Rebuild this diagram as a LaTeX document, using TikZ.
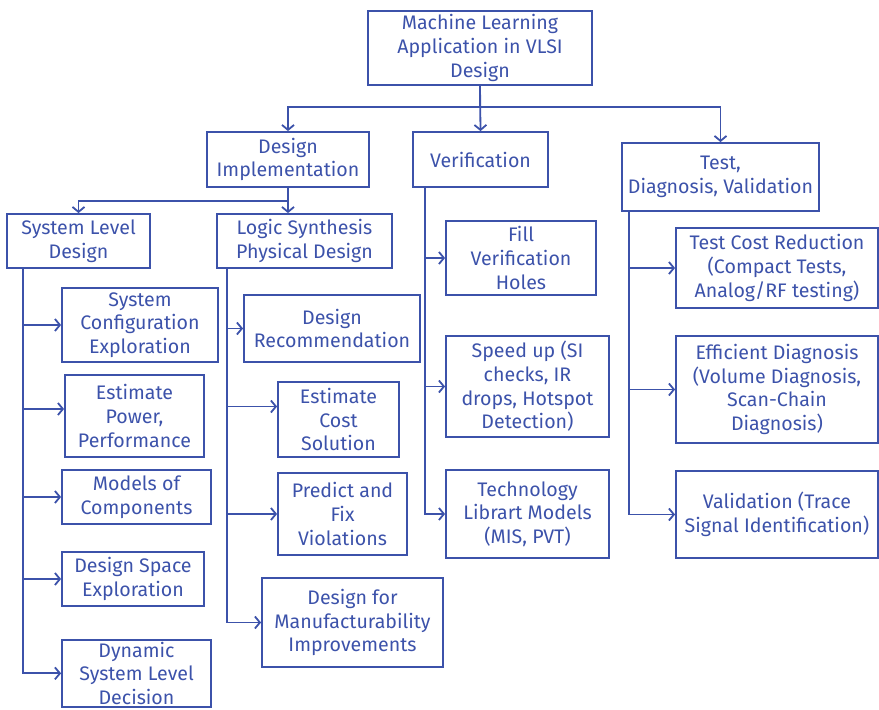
\documentclass[tikz,border=0pt]{standalone}
\usepackage{fontspec}
\setmainfont{Fira Sans}
\usetikzlibrary{arrows.meta}
\definecolor{vlsiblue}{RGB}{60,82,170}

\begin{document}
\begin{tikzpicture}[x=1pt,y=-1pt,line width=1.8pt,color=vlsiblue,
  box/.style n args={2}{draw,rectangle,align=center,inner sep=0pt,minimum width=#1pt,minimum height=#2pt,font=\fontsize{19.6}{23.7}\selectfont},
  arr/.style={-{Straight Barb[length=5pt,width=12pt]}}]
\useasboundingbox (0,0) rectangle (879,710);
\clip (0,0) rectangle (879,710);
% top levels
\node[box={224}{74}] (root) at (480,48) {Machine Learning\\Application in VLSI\\Design};
\node[box={162}{55}] (di) at (288,159.5) {Design\\Implementation};
\node[box={135}{55}] (ver) at (480.5,159.5) {Verification};
\node[box={197}{68}] (tdv) at (720.5,177) {Test,\\Diagnosis, Validation};
\node[box={143}{54}] (sld) at (78.5,241) {System Level\\Design};
\node[box={175}{54}] (lsp) at (304.5,241) {Logic Synthesis\\Physical Design};
% system level
\node[box={156}{74}] (sce) at (140,325) {System\\Configuration\\Exploration};
\node[box={139}{82}] (epp) at (134.5,416) {Estimate\\Power,\\Performance};
\node[box={149}{54}] (mod) at (136.5,497) {Models of\\Components};
\node[box={142}{54}] (dse) at (133,579) {Design Space\\Exploration};
\node[box={149}{0},inner ysep=2pt,anchor=north] (dsl) at (136.5,639) {Dynamic\\System Level\\Decision};
% logic synthesis
\node[box={176}{67}] (dr) at (332,328.5) {Design\\Recommendation};
\node[box={121}{75}] (ecs) at (338.5,419.5) {Estimate\\Cost\\Solution};
\node[box={129}{82}] (pfv) at (342.5,514) {Predict and\\Fix\\Violations};
\node[box={181}{89}] (dfm) at (352.5,622.5) {Design for\\Manufacturability\\Improvements};
% verification
\node[box={150}{74}] (fvh) at (521,258) {Fill\\Verification\\Holes};
\node[box={163}{101}] (spd) at (527.5,386.5) {Speed up (SI\\checks, IR\\drops, Hotspot\\Detection)};
\node[box={163}{88}] (tlm) at (527.5,514) {Technology\\Librart Models\\(MIS, PVT)};
% test
\node[box={202}{80}] (tcr) at (777,268) {Test Cost Reduction\\(Compact Tests,\\Analog/RF testing)};
\node[box={202}{107}] (efd) at (777,389.5) {Efficient Diagnosis\\(Volume Diagnosis,\\Scan-Chain\\Diagnosis)};
\node[box={202}{87}] (val) at (777,514.5) {Validation (Trace\\Signal Identification)};

\draw[arr] (root.south) -- ++(0,21) -| (di.north);
\draw[arr] (root.south) -- ++(0,21) -| (tdv.north);
\draw[arr] (root.south) -- (ver.north);
\draw[arr] (di.south) -- ++(0,13) -| (sld.north);
\draw[arr] (di.south) -- (di.south |- lsp.north);

\foreach \n/\s in {sce/0,epp/7,mod/0,dse/0,dsl/0}
  \draw[arr] ([xshift=17pt]sld.south west) |- ([yshift=\s pt]\n.west);
\foreach \n/\s in {dr/0,ecs/13,pfv/0,dfm/0}
  \draw[arr] ([xshift=11pt]lsp.south west) |- ([yshift=\s pt]\n.west);
\foreach \n in {fvh,spd,tlm}
  \draw[arr] ([xshift=13pt]ver.south west) |- (\n.west);
\foreach \n in {tcr,efd,val}
  \draw[arr] ([xshift=8pt]tdv.south west) |- (\n.west);
\end{tikzpicture}
\end{document}
